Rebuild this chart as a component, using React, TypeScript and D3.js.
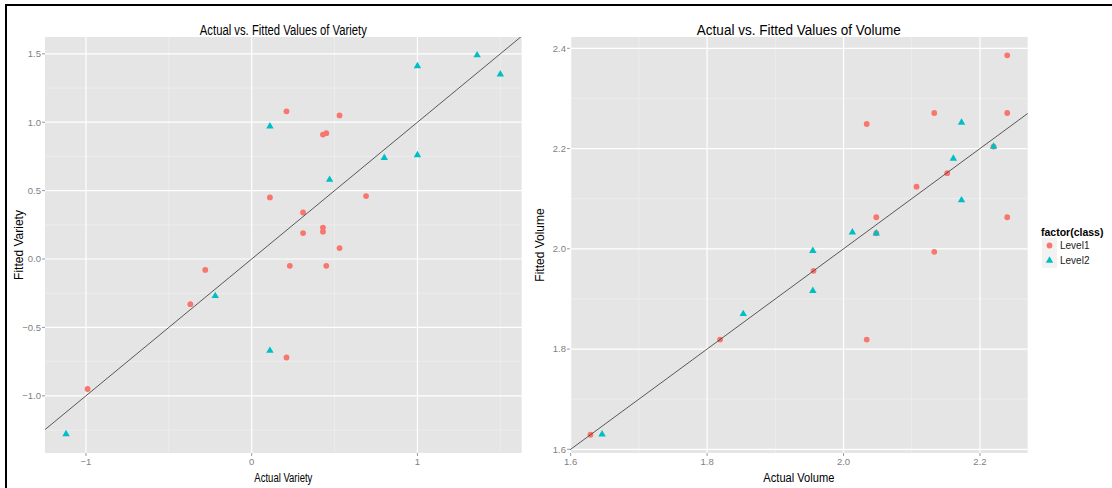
import * as d3 from "d3";

// Variety panel
const varietyL1Actual = [0.11, 0.21, 0.53, 0.43, 0.45, 0.69, 0.31, 0.31, 0.43, 0.43, 0.53, 0.23, 0.45, 0.21, -0.28, -0.37, -0.99];
const varietyL1Fitted = [0.45, 1.08, 1.05, 0.91, 0.92, 0.46, 0.34, 0.19, 0.23, 0.2, 0.08, -0.05, -0.05, -0.72, -0.08, -0.33, -0.95];
const varietyL2Actual = [0.11, 1.0, 1.36, 1.5, 0.8, 1.0, 0.47, 0.11, -0.22, -1.12];
const varietyL2Fitted = [0.97, 1.41, 1.49, 1.35, 0.74, 0.76, 0.58, -0.67, -0.27, -1.28];

// Volume panel
const volumeL1Actual = [2.24, 2.24, 2.133, 2.034, 2.22, 2.152, 2.107, 2.24, 2.048, 2.133, 1.956, 1.819, 1.629, 2.034, 2.048];
const volumeL1Fitted = [2.386, 2.271, 2.271, 2.249, 2.204, 2.151, 2.124, 2.063, 2.063, 1.994, 1.956, 1.819, 1.629, 1.819, 2.031];
const volumeL2Actual = [2.173, 2.22, 2.161, 2.173, 2.013, 2.048, 1.955, 1.955, 1.853, 1.646];
const volumeL2Fitted = [2.252, 2.204, 2.18, 2.097, 2.033, 2.031, 1.996, 1.916, 1.87, 1.63];

const varietyXTicks = [-1, 0, 1];
const varietyXMinor = [-0.5, 0.5, 1.5];
const varietyYTicks = [-1, -0.5, 0, 0.5, 1, 1.5];
const varietyYMinor = [-1.25, -0.75, -0.25, 0.25, 0.75, 1.25];
const volumeXTicks = [1.6, 1.8, 2.0, 2.2];
const volumeXMinor = [1.7, 1.9, 2.1];
const volumeYTicks = [1.6, 1.8, 2.0, 2.2, 2.4];
const volumeYMinor = [1.7, 1.9, 2.1, 2.3];

const levels = ["Level1", "Level2"];
const colors = ["#F8766D", "#00BFC4"];

const NARROW = "'Liberation Sans Narrow', 'Arial Narrow', 'Liberation Sans', Arial, sans-serif";
const SANS = "'Liberation Sans', Arial, sans-serif";

const triangle = d3.symbol(d3.symbolTriangle, 24)();

function Panel({ id, title, titleLen, xLabel, xLabelLen, yLabel, yLabelOff, left, right, xDomain, yDomain, xTicks, xMinor, yTicks, yMinor, xFmt, yFmt, l1x, l1y, l2x, l2y, font }) {
  const top = 37;
  const bottom = 453;
  const x = d3.scaleLinear().domain(xDomain).range([left, right]);
  const y = d3.scaleLinear().domain(yDomain).range([bottom, top]);
  const lo = Math.min(xDomain[0], yDomain[0]);
  const hi = Math.max(xDomain[1], yDomain[1]);
  const cx = (left + right) / 2;
  return (
    <g>
      <defs>
        <clipPath id={id}>
          <rect x={left} y={top} width={right - left} height={bottom - top} />
        </clipPath>
      </defs>
      <rect x={left} y={top} width={right - left} height={bottom - top} fill="#E5E5E5" />
      {xMinor.map((v) => (
        <line key={"xm" + v} x1={x(v)} x2={x(v)} y1={top} y2={bottom} stroke="#F2F2F2" strokeWidth={0.6} />
      ))}
      {yMinor.map((v) => (
        <line key={"ym" + v} x1={left} x2={right} y1={y(v)} y2={y(v)} stroke="#F2F2F2" strokeWidth={0.6} />
      ))}
      {xTicks.map((v) => (
        <g key={"x" + v}>
          <line x1={x(v)} x2={x(v)} y1={top} y2={bottom} stroke="#fff" strokeWidth={1.2} />
          <line x1={x(v)} x2={x(v)} y1={bottom} y2={bottom + 3} stroke="#7F7F7F" strokeWidth={0.8} />
          <text x={x(v)} y={bottom + 12} textAnchor="middle" fontSize={9.5} fill="#7F7F7F" fontFamily={font}>
            {xFmt(v)}
          </text>
        </g>
      ))}
      {yTicks.map((v) => (
        <g key={"y" + v}>
          <line x1={left} x2={right} y1={y(v)} y2={y(v)} stroke="#fff" strokeWidth={1.2} />
          <line x1={left - 3} x2={left} y1={y(v)} y2={y(v)} stroke="#7F7F7F" strokeWidth={0.8} />
          <text x={left - 4} y={y(v) + 3.3} textAnchor="end" fontSize={9.5} fill="#7F7F7F" fontFamily={font}>
            {yFmt(v)}
          </text>
        </g>
      ))}
      <g clipPath={`url(#${id})`}>
        {l1x.map((v, i) => (
          <circle key={"a" + i} cx={x(v)} cy={y(l1y[i])} r={2.9} fill={colors[0]} />
        ))}
        {l2x.map((v, i) => (
          <path key={"b" + i} d={triangle} transform={`translate(${x(v)},${y(l2y[i])})`} fill={colors[1]} />
        ))}
        <line x1={x(lo)} y1={y(lo)} x2={x(hi)} y2={y(hi)} stroke="#333" strokeWidth={0.8} />
      </g>
      <text x={cx} y={35} textAnchor="middle" fontSize={14} fontFamily={font} textLength={titleLen} lengthAdjust="spacingAndGlyphs">
        {title}
      </text>
      <text x={cx} y={482} textAnchor="middle" fontSize={12} fontFamily={font} textLength={xLabelLen} lengthAdjust="spacingAndGlyphs">
        {xLabel}
      </text>
      <text transform={`translate(${left - yLabelOff},${(top + bottom) / 2}) rotate(-90)`} textAnchor="middle" fontSize={12} fontFamily={font}>
        {yLabel}
      </text>
    </g>
  );
}

export default function App() {
  const f1 = (v) => d3.format(".1f")(v);
  const f0 = (v) => d3.format("d")(v);
  return (
    <svg width={1112} height={488} style={{ position: "absolute", left: 0, top: 0, background: "#fff" }}>
      <rect x={0} y={0} width={1112} height={488} fill="#fff" />
      <line x1={5} x2={1112} y1={5} y2={5} stroke="#000" strokeWidth={2} />
      <line x1={6} x2={6} y1={4} y2={488} stroke="#000" strokeWidth={2} />
      <Panel
        id="clipA"
        title="Actual vs. Fitted Values of Variety"
        titleLen={167}
        xLabel="Actual Variety"
        xLabelLen={58}
        yLabel="Fitted Variety"
        yLabelOff={22}
        left={45}
        right={521.7}
        xDomain={[-1.247, 1.629]}
        yDomain={[-1.418, 1.623]}
        xTicks={varietyXTicks}
        xMinor={varietyXMinor}
        yTicks={varietyYTicks}
        yMinor={varietyYMinor}
        xFmt={f0}
        yFmt={f1}
        l1x={varietyL1Actual}
        l1y={varietyL1Fitted}
        l2x={varietyL2Actual}
        l2y={varietyL2Fitted}
        font={NARROW}
      />
      <Panel
        id="clipB"
        title="Actual vs. Fitted Values of Volume"
        titleLen={204}
        xLabel="Actual Volume"
        xLabelLen={71}
        yLabel="Fitted Volume"
        yLabelOff={26}
        left={570}
        right={1027.7}
        xDomain={[1.599, 2.27]}
        yDomain={[1.5926, 2.4226]}
        xTicks={volumeXTicks}
        xMinor={volumeXMinor}
        yTicks={volumeYTicks}
        yMinor={volumeYMinor}
        xFmt={f1}
        yFmt={f1}
        l1x={volumeL1Actual}
        l1y={volumeL1Fitted}
        l2x={volumeL2Actual}
        l2y={volumeL2Fitted}
        font={SANS}
      />
      <g>
        <text x={1041} y={236} fontSize={10.5} fontWeight="bold" fontFamily={NARROW}>
          factor(class)
        </text>
        {levels.map((lv, i) => {
          const ky = 238 + i * 15;
          return (
            <g key={lv}>
              <rect x={1042} y={ky} width={15} height={15} fill="#F2F2F2" />
              {i === 0 ? (
                <circle cx={1049.5} cy={ky + 7.5} r={2.9} fill={colors[0]} />
              ) : (
                <path d={triangle} transform={`translate(1049.5,${ky + 7.5})`} fill={colors[1]} />
              )}
              <text x={1060} y={ky + 11} fontSize={10} fontFamily={NARROW} fill="#222">
                {lv}
              </text>
            </g>
          );
        })}
      </g>
    </svg>
  );
}
